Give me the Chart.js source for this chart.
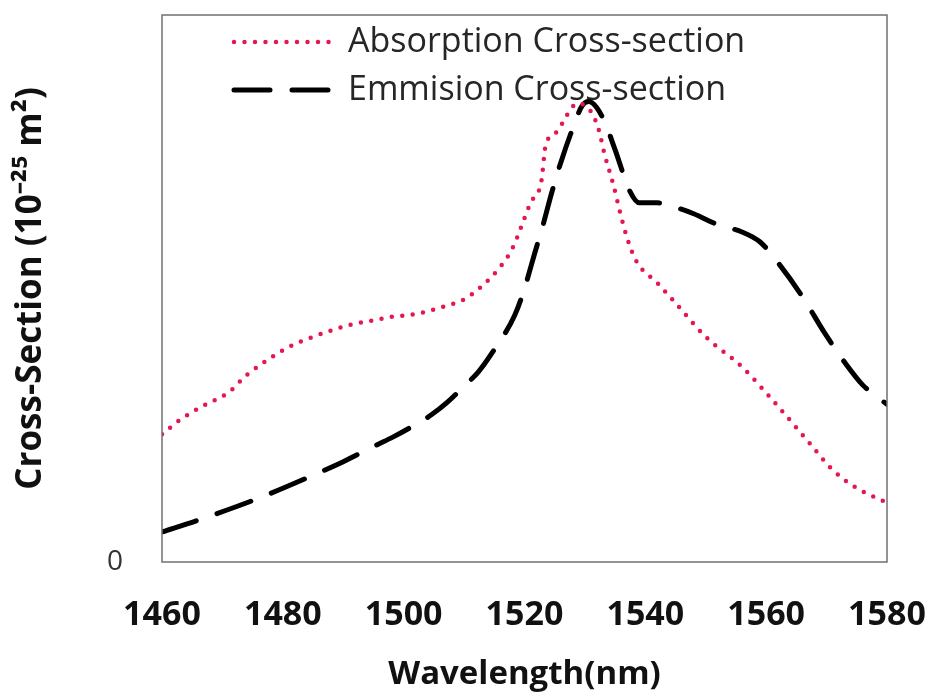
<!DOCTYPE html>
<html>
<head>
<meta charset="utf-8">
<script src="https://cdn.jsdelivr.net/npm/chart.js@4/dist/chart.umd.min.js"></script>
<style>
  html, body { margin: 0; padding: 0; background: #fff; }
</style>
</head>
<body>
<canvas id="xsChart" width="930" height="699"></canvas>
<script>
// wavelength (nm) and cross-section (10^-25 m^2)
const absWavelength = [1460, 1463, 1467, 1471, 1474, 1478, 1481, 1485, 1488, 1491, 1495, 1498, 1501, 1504, 1507, 1510, 1513, 1516, 1518, 1521, 1522.8, 1523.5, 1525.4, 1527, 1528.7, 1530.8, 1532.2, 1533.3, 1534.7, 1535.8, 1537, 1538.6, 1542, 1544.6, 1550, 1556, 1561, 1567.5, 1571, 1575, 1578, 1580];
const absValue      = [1.40, 1.56, 1.72, 1.86, 2.05, 2.24, 2.36, 2.47, 2.54, 2.60, 2.65, 2.69, 2.71, 2.75, 2.81, 2.88, 3.03, 3.24, 3.44, 3.94, 4.18, 4.57, 4.72, 4.90, 5.03, 4.96, 4.76, 4.46, 4.14, 3.84, 3.55, 3.29, 3.06, 2.87, 2.47, 2.14, 1.78, 1.28, 1.01, 0.81, 0.71, 0.65];

const emWavelength = [1460, 1466, 1476, 1486, 1490, 1495.4, 1498.2, 1501.5, 1504.7, 1507.2, 1510, 1512.3, 1514.6, 1518.4, 1520, 1521.7, 1523, 1524.5, 1526, 1528, 1529.5, 1530.6, 1532, 1533.5, 1535, 1537.5, 1539, 1542, 1545, 1548, 1552, 1556, 1559, 1562, 1566, 1569.7, 1573, 1576, 1578, 1580];
const emValue      = [0.33, 0.46, 0.70, 0.98, 1.10, 1.28, 1.37, 1.49, 1.62, 1.75, 1.93, 2.08, 2.29, 2.71, 3.00, 3.39, 3.68, 4.05, 4.38, 4.76, 5.00, 5.05, 4.98, 4.79, 4.52, 4.06, 3.94, 3.94, 3.89, 3.82, 3.70, 3.62, 3.51, 3.28, 2.91, 2.51, 2.19, 1.94, 1.83, 1.73];

const seriesLabels = ['Absorption Cross-section', 'Emmision Cross-section'];
const xTicks = [1460, 1480, 1500, 1520, 1540, 1560, 1580];
const yTicks = [0];

function toPoints(xs, ys) {
  return xs.map((x, i) => ({ x: x, y: ys[i] }));
}

// legend drawn inside the plot box, under the curves
const insideLegend = {
  id: 'insideLegend',
  beforeDatasetsDraw(chart) {
    const ctx = chart.ctx;
    const area = chart.chartArea;
    const rows = [area.top + 27, area.top + 75];
    ctx.save();
    chart.data.datasets.forEach((ds, i) => {
      const y = rows[i];
      const x0 = area.left + 72;
      ctx.beginPath();
      ctx.strokeStyle = ds.borderColor;
      ctx.lineWidth = ds.borderWidth;
      ctx.lineCap = ds.borderCapStyle;
      ctx.setLineDash(ds.borderDash);
      ctx.moveTo(x0, y);
      ctx.lineTo(x0 + 100, y);
      ctx.stroke();
      ctx.setLineDash([]);
      ctx.fillStyle = '#262626';
      ctx.font = '34px "Open Sans"';
      ctx.textBaseline = 'middle';
      ctx.fillText(ds.label, area.left + 186, y);
    });
    ctx.restore();
  }
};

// plain box round the plot
const plotFrame = {
  id: 'plotFrame',
  afterDatasetsDraw(chart) {
    const a = chart.chartArea;
    const ctx = chart.ctx;
    ctx.save();
    ctx.strokeStyle = '#707070';
    ctx.lineWidth = 1.5;
    ctx.strokeRect(a.left, a.top, a.right - a.left, a.bottom - a.top);
    ctx.restore();
  }
};

const ctx = document.getElementById('xsChart').getContext('2d');
new Chart(ctx, {
  type: 'line',
  data: {
    datasets: [
      {
        label: seriesLabels[0],
        data: toPoints(absWavelength, absValue),
        borderColor: '#e4184e',
        borderWidth: 4.5,
        borderDash: [0, 10.5],
        borderCapStyle: 'round',
        pointRadius: 0,
        cubicInterpolationMode: 'monotone',
        fill: false
      },
      {
        label: seriesLabels[1],
        data: toPoints(emWavelength, emValue),
        borderColor: '#000000',
        borderWidth: 5,
        borderDash: [36, 22],
        borderCapStyle: 'round',
        pointRadius: 0,
        cubicInterpolationMode: 'monotone',
        fill: false
      }
    ]
  },
  options: {
    responsive: false,
    animation: false,
    layout: { padding: { left: 0, right: 43, top: 15, bottom: 0 } },
    plugins: {
      legend: { display: false },
      tooltip: { enabled: false }
    },
    scales: {
      x: {
        type: 'linear',
        min: 1460,
        max: 1580,
        afterBuildTicks: s => { s.ticks = xTicks.map(v => ({ value: v })); },
        afterFit: s => {
          s.height = 699 - 562;
          s.paddingLeft = 0;
          s.paddingRight = 0;
        },
        grid: { display: false, drawTicks: false },
        border: { display: false },
        ticks: {
          color: '#111',
          font: { family: 'Open Sans', size: 34, weight: 'bold' },
          padding: 33,
          maxRotation: 0,
          callback: v => String(v)
        },
        title: {
          display: true,
          text: 'Wavelength(nm)',
          color: '#111',
          font: { family: 'Open Sans', size: 33, weight: 'bold' },
          padding: { top: 0, bottom: 5 }
        }
      },
      y: {
        type: 'linear',
        min: 0,
        max: 6,
        afterBuildTicks: s => { s.ticks = yTicks.map(v => ({ value: v })); },
        afterFit: s => {
          s.width = 162;
          s.paddingTop = 0;
          s.paddingBottom = 0;
        },
        grid: { display: false, drawTicks: false },
        border: { display: false },
        ticks: {
          color: '#333',
          font: { family: 'Open Sans', size: 28 },
          padding: 39,
          callback: v => String(v)
        },
        title: {
          display: true,
          text: 'Cross-Section (10⁻²⁵ m²)',
          color: '#111',
          font: { family: 'Open Sans', size: 35, weight: 'bold' },
          padding: { top: 10, bottom: 0 }
        }
      }
    }
  },
  plugins: [insideLegend, plotFrame]
});
</script>
</body>
</html>
